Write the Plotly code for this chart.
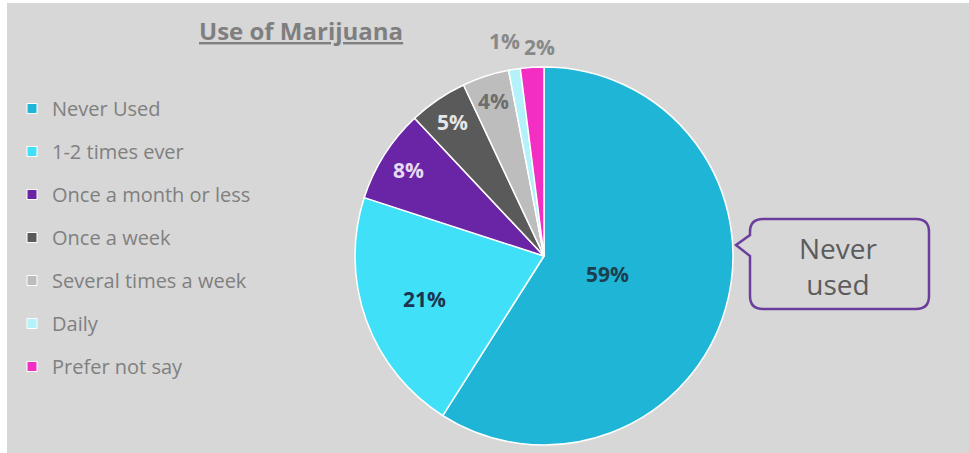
import math
import plotly.graph_objects as go

W, H = 969, 453
OFF = 0  # body margin removed below, figure sits at the window origin

categories = ["Never Used", "1-2 times ever", "Once a month or less", "Once a week",
              "Several times a week", "Daily", "Prefer not say"]
values = [59, 21, 8, 5, 4, 1, 2]
colors = ["#1fb5d7", "#40e1f8", "#6a25a6", "#5a5a5a", "#bdbdbd", "#b3f1fb", "#f22fc2"]
label_colors = ["#1c3f4f", "#1d3550", "#e6dcf2", "#e6e6e6", "#6e6e6e", "#888888", "#888888"]
label_radius = [0.35, 0.67, 0.85, 0.86, 0.86, 1.15, 1.11]
label_xshift = [0, 0, 0, 0, 0, -5, 9]
title_text = "Use of Marijuana"
callout_text = "Never<br>used"


def X(px):
    return (px - OFF) / W


def Y(py):
    return 1 - (py - OFF) / H


# pie geometry in screen pixels
pl, pr, pt, pb = 355, 733, 67, 445
cx, cy, R = (pl + pr) / 2, (pt + pb) / 2, (pr - pl) / 2

fig = go.Figure()

fig.add_trace(go.Pie(
    labels=categories,
    values=values,
    sort=False,
    direction="clockwise",
    rotation=0,
    marker=dict(colors=colors, line=dict(color="white", width=1.5)),
    textinfo="none",
    showlegend=False,
    hoverinfo="label+percent",
    domain=dict(x=[X(pl), X(pr)], y=[Y(pb), Y(pt)]),
))

# legend entries
for cat, col in zip(categories, colors):
    fig.add_trace(go.Scatter(
        x=[None], y=[None], mode="markers", name=cat, legendgroup=cat,
        marker=dict(symbol="square", size=10, color=col, line=dict(color="white", width=1)),
        hoverinfo="skip",
    ))

shapes = [
    dict(type="rect", xref="paper", yref="paper", x0=X(7), x1=1, y0=0, y1=Y(3),
         fillcolor="#d7d7d7", line=dict(width=0), layer="below"),
]

# callout box
l, r, t, b, rad = 750, 929, 219, 309, 13
pts = [
    f"M {X(l + rad)},{Y(t)}",
    f"L {X(r - rad)},{Y(t)}",
    f"Q {X(r)},{Y(t)} {X(r)},{Y(t + rad)}",
    f"L {X(r)},{Y(b - rad)}",
    f"Q {X(r)},{Y(b)} {X(r - rad)},{Y(b)}",
    f"L {X(l + rad)},{Y(b)}",
    f"Q {X(l)},{Y(b)} {X(l)},{Y(b - rad)}",
    f"L {X(l)},{Y(256)}",
    f"L {X(736)},{Y(245)}",
    f"L {X(l)},{Y(235)}",
    f"L {X(l)},{Y(t + rad)}",
    f"Q {X(l)},{Y(t)} {X(l + rad)},{Y(t)}",
    "Z",
]
shapes.append(dict(type="path", xref="paper", yref="paper", path=" ".join(pts),
                   line=dict(color="#6b3e9e", width=2.5), fillcolor="rgba(0,0,0,0)"))

annotations = [
    dict(text=f"<u>{title_text}</u>", x=X(301), y=Y(30), xref="paper", yref="paper",
         xanchor="center", yanchor="middle", showarrow=False,
         font=dict(family="Open Sans", size=24, color="#7f7f7f", weight="bold")),
    dict(text=callout_text, x=X(838), y=Y(266), xref="paper", yref="paper",
         xanchor="center", yanchor="middle", showarrow=False,
         font=dict(family="Open Sans", size=28, color="#5c5c5c")),
]

# slice labels placed along each slice's mid-angle
total = sum(values)
cum = 0
for v, col, rf, xs in zip(values, label_colors, label_radius, label_xshift):
    theta = 2 * math.pi * (cum + v / 2) / total
    cum += v
    px = cx + rf * R * math.sin(theta)
    py = cy - rf * R * math.cos(theta)
    annotations.append(dict(
        text=f"{v}%", x=X(px), y=Y(py), xref="paper", yref="paper",
        xanchor="center", yanchor="middle", xshift=xs, showarrow=False,
        font=dict(family="Open Sans", size=21, color=col, weight="bold"),
    ))

fig.update_layout(
    width=W, height=H,
    margin=dict(l=0, r=0, t=0, b=0),
    paper_bgcolor="white",
    plot_bgcolor="rgba(0,0,0,0)",
    xaxis=dict(visible=False),
    yaxis=dict(visible=False),
    shapes=shapes,
    annotations=annotations,
    legend=dict(x=X(12), y=Y(89), xanchor="left", yanchor="top",
                traceorder="grouped", tracegroupgap=14,
                font=dict(family="Open Sans", size=20, color="#808080"),
                bgcolor="rgba(0,0,0,0)"),
)

fig.write_html("out.html",
               config={"displayModeBar": False},
               post_script="document.body.style.margin='0';document.body.style.overflow='hidden';")
